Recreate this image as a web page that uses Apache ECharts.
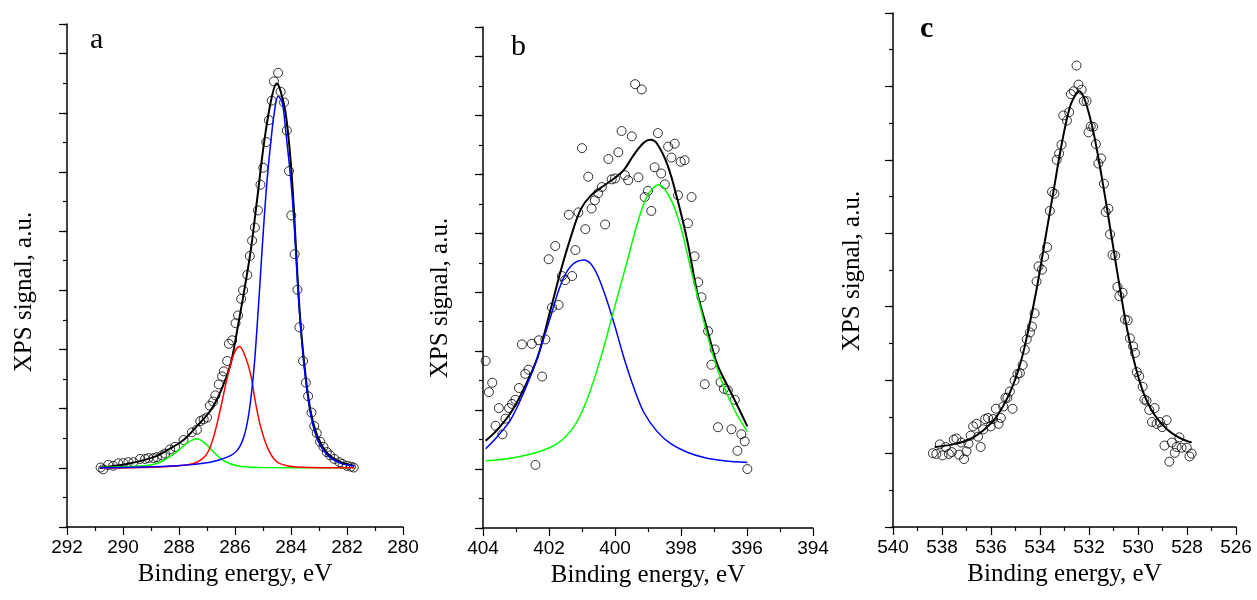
<!DOCTYPE html>
<html>
<head>
<meta charset="utf-8">
<script src="https://cdn.jsdelivr.net/npm/echarts@6/dist/echarts.min.js"></script>
<style>
html,body{margin:0;padding:0;background:#fff;}
#chart{width:1257px;height:600px;}
</style>
</head>
<body>
<div id="chart"></div>
<script>
// ---------- Panel a : C 1s ----------
const aXTicks = [280, 292];
const aPoints = [[290.80,2.01],[290.71,1.95],[290.53,2.10],[290.35,2.07],[290.17,2.15],[289.99,2.16],[289.81,2.19],[289.63,2.19],[289.39,2.30],[289.21,2.30],[289.09,2.33],[288.91,2.33],[288.79,2.36],[288.61,2.42],[288.50,2.48],[288.32,2.62],[288.14,2.71],[287.84,2.94],[287.54,3.20],[287.36,3.29],[287.24,3.58],[287.12,3.64],[287.00,3.70],[286.90,4.10],[286.78,4.24],[286.70,4.45],[286.58,4.82],[286.46,5.09],[286.40,5.26],[286.28,5.61],[286.22,6.19],[286.10,6.31],[285.98,6.89],[285.89,7.15],[285.78,7.71],[285.71,8.00],[285.56,8.52],[285.47,9.16],[285.39,9.68],[285.29,10.12],[285.18,10.70],[285.09,11.57],[284.99,12.14],[284.88,13.01],[284.79,13.75],[284.69,14.41],[284.61,15.06],[284.46,15.35],[284.37,14.71],[284.25,14.35],[284.15,13.40],[284.07,12.03],[283.99,10.53],[283.87,9.22],[283.77,8.02],[283.70,6.75],[283.57,5.61],[283.47,4.88],[283.39,4.42],[283.27,3.87],[283.17,3.41],[283.08,3.17],[282.96,2.88],[282.84,2.71],[282.72,2.53],[282.60,2.42],[282.45,2.30],[282.27,2.19],[282.16,2.13],[282.00,2.07],[281.86,2.04],[281.76,2.01]];
const aTotal = [[290.83,2.01],[289.87,2.13],[288.91,2.36],[288.32,2.65],[287.84,2.94],[287.36,3.41],[286.88,3.93],[286.52,4.57],[286.16,5.50],[285.92,6.66],[285.68,7.94],[285.44,9.33],[285.21,11.07],[284.97,12.93],[284.73,14.33],[284.51,14.99],[284.37,14.73],[284.19,13.98],[284.01,12.35],[283.89,10.61],[283.77,8.52],[283.65,6.78],[283.47,5.03],[283.29,3.87],[283.05,3.06],[282.69,2.48],[282.22,2.19],[281.74,2.07]];
const aBlue = [[290.83,2.00],[288.08,2.07],[286.88,2.19],[286.28,2.36],[285.92,2.59],[285.68,3.06],[285.50,3.87],[285.33,5.27],[285.21,6.78],[285.09,8.52],[284.97,10.26],[284.85,11.77],[284.73,12.93],[284.60,13.98],[284.46,14.56],[284.31,14.33],[284.19,13.40],[284.01,11.77],[283.89,10.26],[283.77,8.29],[283.65,6.66],[283.47,4.92],[283.29,3.76],[283.05,2.94],[282.69,2.42],[282.22,2.15],[281.74,2.06]];
const aRed = [[290.83,1.99],[288.67,2.03],[287.84,2.09],[287.36,2.19],[287.00,2.48],[286.76,3.06],[286.52,3.99],[286.28,5.03],[286.04,5.85],[285.84,6.10],[285.62,5.73],[285.44,5.15],[285.27,4.22],[285.09,3.41],[284.85,2.71],[284.55,2.24],[284.13,2.07],[283.29,2.01],[281.74,2.00]];
const aGreen = [[290.83,2.01],[289.27,2.07],[288.67,2.19],[288.08,2.54],[287.72,2.83],[287.36,2.98],[287.00,2.77],[286.70,2.48],[286.40,2.24],[285.92,2.07],[285.09,2.01],[281.74,2.00]];

// ---------- Panel b : N 1s ----------
const bXTicks = [394, 404];
const bPoints = [[403.92,5.67],[403.82,4.61],[403.72,4.93],[403.62,3.47],[403.52,4.07],[403.41,3.18],[403.32,3.71],[403.21,4.07],[403.12,4.21],[403.02,4.35],[402.91,4.75],[402.82,6.23],[402.72,5.23],[402.62,5.37],[402.52,6.25],[402.41,2.14],[402.31,6.37],[402.21,5.14],[402.11,6.40],[402.01,9.12],[401.91,7.48],[401.81,9.57],[401.71,7.57],[401.61,8.55],[401.51,8.41],[401.40,10.63],[401.30,8.55],[401.20,9.43],[401.11,10.71],[401.00,12.89],[400.90,10.14],[400.81,11.92],[400.71,10.84],[400.61,11.12],[400.51,11.36],[400.40,11.57],[400.30,10.30],[400.20,12.52],[400.10,11.83],[400.00,11.86],[399.90,12.75],[399.80,13.47],[399.70,11.97],[399.60,11.80],[399.49,13.29],[399.39,15.06],[399.29,11.90],[399.19,14.88],[399.10,11.23],[399.00,11.44],[398.90,10.76],[398.80,12.24],[398.70,13.40],[398.60,12.03],[398.49,11.66],[398.39,12.94],[398.29,12.57],[398.19,13.04],[398.09,11.29],[398.01,12.43],[397.89,12.48],[397.79,10.34],[397.68,11.23],[397.59,9.22],[397.48,8.34],[397.38,7.83],[397.28,4.88],[397.18,6.68],[397.08,5.54],[396.98,6.06],[396.88,3.42],[396.80,4.95],[396.70,4.72],[396.58,4.67],[396.47,3.35],[396.37,4.35],[396.29,2.62],[396.17,3.18],[396.07,2.94],[395.99,2.00]];
const bTotal = [[403.92,2.96],[403.57,3.33],[403.16,3.91],[402.76,4.73],[402.35,5.78],[401.95,7.42],[401.65,8.70],[401.34,9.87],[401.04,10.81],[400.74,11.27],[400.33,11.62],[400.03,11.86],[399.73,12.15],[399.42,12.68],[399.12,13.08],[398.92,13.17],[398.72,13.03],[398.41,12.32],[398.11,11.16],[397.81,9.75],[397.51,8.00],[397.20,6.72],[396.90,5.55],[396.60,4.85],[396.29,4.15],[395.99,3.45]];
const bBlue = [[403.92,2.69],[403.57,3.10],[403.16,3.68],[402.76,4.61],[402.35,5.78],[401.95,7.18],[401.65,8.24],[401.34,8.88],[400.94,9.09],[400.64,8.82],[400.33,8.00],[400.03,6.95],[399.73,5.78],[399.42,4.73],[399.12,3.91],[398.72,3.27],[398.31,2.86],[397.81,2.57],[397.30,2.39],[396.70,2.28],[395.99,2.22]];
const bGreen = [[403.92,2.28],[403.16,2.37],[402.35,2.57],[401.75,2.86],[401.24,3.45],[400.84,4.38],[400.43,5.78],[400.03,7.42],[399.63,9.05],[399.32,10.34],[399.02,11.27],[398.67,11.65],[398.31,11.16],[398.01,10.22],[397.71,8.82],[397.40,7.42],[397.10,6.13],[396.80,5.08],[396.39,4.03],[395.99,3.27]];

// ---------- Panel c : O 1s ----------
const cXTicks = [526, 540];
const cPoints = [[538.37,2.01],[538.23,1.99],[538.09,2.25],[537.98,1.95],[537.85,2.18],[537.72,1.99],[537.60,2.04],[537.52,2.38],[537.41,2.41],[537.30,1.97],[537.21,2.30],[537.10,1.85],[537.00,2.06],[536.92,2.27],[536.83,2.49],[536.73,2.74],[536.59,2.81],[536.53,2.46],[536.42,2.18],[536.32,2.66],[536.24,2.94],[536.12,2.97],[536.01,2.74],[535.91,2.94],[535.80,3.22],[535.69,2.81],[535.60,2.97],[535.50,3.28],[535.41,3.52],[535.33,3.52],[535.23,3.69],[535.12,3.22],[535.04,3.99],[534.92,4.17],[534.82,4.19],[534.71,4.41],[534.62,4.83],[534.54,5.11],[534.41,5.30],[534.33,5.46],[534.22,5.82],[534.14,6.69],[534.06,7.10],[533.92,7.01],[533.83,7.36],[533.71,7.62],[533.60,8.61],[533.51,9.13],[533.41,9.08],[533.32,10.00],[533.22,10.17],[533.12,10.41],[533.05,11.21],[532.90,11.07],[532.81,11.30],[532.74,11.79],[532.62,11.87],[532.51,12.57],[532.43,12.05],[532.30,11.91],[532.21,11.60],[532.10,11.60],[532.02,10.75],[531.93,10.91],[531.83,10.90],[531.72,10.43],[531.62,9.90],[531.51,10.04],[531.39,9.35],[531.32,8.58],[531.21,8.67],[531.14,7.97],[531.04,7.41],[530.93,7.39],[530.84,6.54],[530.76,6.29],[530.63,6.38],[530.53,5.65],[530.42,5.63],[530.33,5.14],[530.20,4.92],[530.12,4.74],[530.05,4.22],[529.95,4.11],[529.81,3.82],[529.74,3.47],[529.65,3.44],[529.54,3.19],[529.43,2.86],[529.32,3.24],[529.24,2.81],[529.11,2.86],[529.01,2.72],[528.92,2.22],[528.83,2.91],[528.72,1.78],[528.62,2.30],[528.50,2.02],[528.42,2.18],[528.31,2.44],[528.22,2.16],[528.01,2.16],[527.90,1.92],[527.81,2.00]];
const cTotal = [[538.30,2.18],[537.55,2.25],[536.87,2.39],[536.32,2.63],[535.78,3.00],[535.23,3.66],[534.82,4.41],[534.48,5.35],[534.14,6.47],[533.80,7.79],[533.46,9.10],[533.12,10.41],[532.78,11.44],[532.51,11.82],[532.40,11.87],[532.17,11.63],[531.83,10.79],[531.49,9.57],[531.14,8.16],[530.80,6.75],[530.46,5.44],[530.12,4.41],[529.78,3.66],[529.37,3.10],[528.83,2.67],[528.28,2.42],[527.81,2.30]];

const yMaxes = [17, 17, 14];
const panelLetters = ['a', 'b', 'c'];
const xTitle = 'Binding energy, eV';
const yTitle = 'XPS signal, a.u.';

const SERIF = '"Liberation Serif", "Times New Roman", serif';
const SANS = '"Liberation Sans", Arial, sans-serif';

const grids = [
  {left: 67, top: 24, width: 336, height: 503},
  {left: 483, top: 27, width: 330, height: 501},
  {left: 893, top: 13, width: 343, height: 514}
];
const xRanges = [aXTicks, bXTicks, cXTicks];

const xAxes = xRanges.map((r, i) => ({
  gridIndex: i, type: 'value', inverse: true, min: r[0], max: r[1], interval: 2,
  axisLine: {show: true, onZero: false, lineStyle: {color: '#000', width: 1.5}},
  axisTick: {show: true, length: 8, lineStyle: {color: '#000', width: 1.2}},
  minorTick: {show: true, splitNumber: 2, length: 4, lineStyle: {color: '#000', width: 1.2}},
  axisLabel: {color: '#000', fontFamily: SANS, fontSize: 19, margin: 11},
  splitLine: {show: false},
  name: xTitle, nameLocation: 'middle', nameGap: 34,
  nameTextStyle: {color: '#000', fontFamily: SERIF, fontSize: 25}
}));

const yAxes = [];
yMaxes.forEach((m, i) => {
  yAxes.push({
    gridIndex: i, type: 'value', min: 0, max: m, interval: 2, position: 'left',
    axisLine: {show: true, onZero: false, lineStyle: {color: '#000', width: 1.5}},
    axisTick: {show: true, length: 8, lineStyle: {color: '#000', width: 1.2}},
    axisLabel: {show: false}, splitLine: {show: false}
  });
  yAxes.push({
    gridIndex: i, type: 'value', min: 0, max: m, interval: 1, position: 'left',
    axisLine: {show: false},
    axisTick: {show: true, length: 4, lineStyle: {color: '#000', width: 1.2}},
    axisLabel: {show: false}, splitLine: {show: false}
  });
});

function scatter(data, i) {
  return {type: 'scatter', xAxisIndex: i, yAxisIndex: i * 2, data: data,
    symbol: 'circle', symbolSize: 9, silent: true, z: 2,
    itemStyle: {color: 'rgba(0,0,0,0)', borderColor: '#000', borderWidth: 1}};
}
function line(data, i, color, width, z) {
  return {type: 'line', xAxisIndex: i, yAxisIndex: i * 2, data: data,
    smooth: 0.35, showSymbol: false, symbol: 'none', silent: true, z: z,
    lineStyle: {color: color, width: width}};
}

const series = [
  scatter(aPoints, 0),
  line(aTotal, 0, '#000', 2, 3),
  line(aGreen, 0, '#00ff00', 1.5, 4),
  line(aRed, 0, '#ff0000', 1.5, 4),
  line(aBlue, 0, '#0000ff', 1.5, 5),
  scatter(bPoints, 1),
  line(bTotal, 1, '#000', 2, 3),
  line(bBlue, 1, '#0000ff', 1.5, 4),
  line(bGreen, 1, '#00ff00', 1.5, 4),
  scatter(cPoints, 2),
  line(cTotal, 2, '#000', 2, 3)
];

const letterPos = [[90, 55, 'normal'], [511, 62, 'normal'], [920, 44, 'bold']];
const yTitlePos = [[24, 292], [440, 298], [852, 271]];
const graphic = [];
panelLetters.forEach((t, i) => {
  graphic.push({type: 'text', x: letterPos[i][0], y: letterPos[i][1],
    style: {text: t, font: letterPos[i][2] + ' 30px ' + SERIF, fill: '#000', textAlign: 'left', textVerticalAlign: 'bottom'}});
  graphic.push({type: 'text', x: yTitlePos[i][0], y: yTitlePos[i][1], rotation: Math.PI / 2,
    style: {text: yTitle, font: '25px ' + SERIF, fill: '#000', textAlign: 'center', textVerticalAlign: 'middle'}});
});

const chart = echarts.init(document.getElementById('chart'), null, {renderer: 'canvas'});
chart.setOption({
  animation: false,
  backgroundColor: '#fff',
  grid: grids,
  xAxis: xAxes,
  yAxis: yAxes,
  series: series,
  graphic: graphic
});
</script>
</body>
</html>
